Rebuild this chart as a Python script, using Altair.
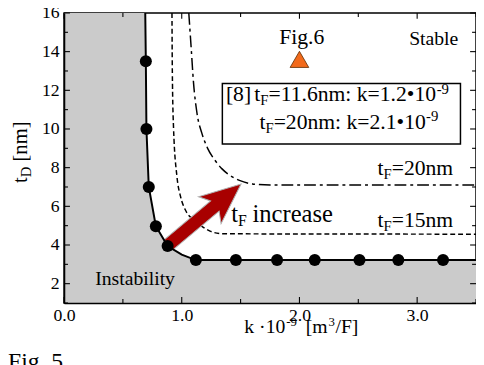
import math
import altair as alt
import pandas as pd

FONT = "Liberation Serif"

# ---------------- data ----------------
# stability boundary (solid line, tF = 11.6 nm)
solid_k = [0.69, 0.695, 0.70, 0.72, 0.78, 0.88, 1.00, 1.12, 3.50]
solid_t = [16.0, 13.5, 10.0, 7.0, 4.97, 3.95, 3.50, 3.22, 3.22]
# simulated points on the boundary
dot_k = [0.695, 0.70, 0.72, 0.78, 0.88, 1.12, 1.46, 1.81, 2.13, 2.51, 2.84, 3.22]
dot_t = [13.5, 10.0, 7.0, 4.97, 3.95, 3.22, 3.22, 3.22, 3.22, 3.22, 3.22, 3.22]
# tF = 15 nm boundary (dashed)
tf15_k = [0.917, 0.92, 0.93, 0.96, 0.99, 1.03, 1.09, 1.15, 1.24, 1.35, 3.50]
tf15_t = [16.0, 13.0, 10.1, 7.5, 6.5, 5.82, 5.35, 5.05, 4.72, 4.58, 4.56]
# tF = 20 nm boundary (dash-dot)
tf20_k = [1.06, 1.08, 1.10, 1.13, 1.17, 1.22, 1.28, 1.34, 1.41, 1.49, 1.60, 1.75, 3.50]
tf20_t = [16.0, 14.2, 12.4, 10.8, 9.8, 9.0, 8.4, 7.95, 7.6, 7.34, 7.16, 7.1, 7.1]
# Fig.6 operating point
fig6_k = [2.0]
fig6_t = [13.6]
# "tF increase" arrow (tail, head)
arrow_k = [0.886, 1.504]
arrow_t = [4.0, 7.15]

x_ticks_major = [0, 1, 2, 3]
x_ticks_minor = [0.5, 1.5, 2.5, 3.5]
y_ticks_major = [2, 4, 6, 8, 10, 12, 14, 16]
y_ticks_minor = [1, 3, 5, 7, 9, 11, 13, 15]

# ---------------- layout ----------------
W, H = 419, 295
XD, YD = [0, 3.5], [1, 16]
PXK = W / (XD[1] - XD[0])
PXT = H / (YD[1] - YD[0])

xs = alt.Scale(domain=XD, nice=False, zero=False)
ys = alt.Scale(domain=YD, nice=False, zero=False)

ax_x_lab = alt.Axis(orient="bottom", values=x_ticks_major, format=".1f", tickSize=0,
                    domain=True, domainColor="black", domainWidth=1.5, grid=False,
                    title=None, labelFont=FONT, labelFontSize=18, labelColor="black",
                    labelPadding=4, labelFlush=False, labelOverlap=False, zindex=2)
ax_y_lab = alt.Axis(orient="left", values=y_ticks_major, tickSize=0,
                    domain=True, domainColor="black", domainWidth=1.5, grid=False,
                    title=None, labelFont=FONT, labelFontSize=18, labelColor="black",
                    labelPadding=5, labelFlush=False, labelOverlap=False, zindex=2)


# every layer carries the same axis definition, so they merge into one
def ex(field):
    return alt.X(f"{field}:Q", scale=xs, axis=ax_x_lab)


def ey(field):
    return alt.Y(f"{field}:Q", scale=ys, axis=ax_y_lab)


# inward tick marks on all four sides (axis decoration) drawn as thin rects
def xtick_layer(values, length_px, top):
    d = length_px / PXT
    a, b = (YD[1], YD[1] - d) if top else (YD[0], YD[0] + d)
    half = 0.55 / PXK
    df = pd.DataFrame({"v1": [v - half for v in values], "v2": [v + half for v in values],
                       "a": a, "b": b})
    return alt.Chart(df).mark_rect(color="black", opacity=1).encode(
        x=ex("v1"), x2=alt.X2("v2"), y=ey("a"), y2=alt.Y2("b"))


def ytick_layer(values, length_px, right):
    d = length_px / PXK
    a, b = (XD[1], XD[1] - d) if right else (XD[0], XD[0] + d)
    half = 0.55 / PXT
    df = pd.DataFrame({"v1": [v - half for v in values], "v2": [v + half for v in values],
                       "a": a, "b": b})
    return alt.Chart(df).mark_rect(color="black", opacity=1).encode(
        y=ey("v1"), y2=alt.Y2("v2"), x=ex("a"), x2=alt.X2("b"))


tick_layers = []
for top in (False, True):
    tick_layers.append(xtick_layer(x_ticks_major, 6, top))
    tick_layers.append(xtick_layer(x_ticks_minor, 4, top))
for right in (False, True):
    tick_layers.append(ytick_layer(y_ticks_major, 6, right))
    tick_layers.append(ytick_layer(y_ticks_minor, 4, right))

# ---------------- tables ----------------
df_area = pd.DataFrame({"k": [XD[0]] + solid_k, "t": [YD[1]] + solid_t})
df_area["base"] = YD[0]
df_solid = pd.DataFrame({"k": solid_k, "t": solid_t})
df_dots = pd.DataFrame({"k": dot_k, "t": dot_t})
df_15 = pd.DataFrame({"k": tf15_k, "t": tf15_t})
df_20 = pd.DataFrame({"k": tf20_k, "t": tf20_t})
df_fig6 = pd.DataFrame({"k": fig6_k, "t": fig6_t})

dxp = (arrow_k[1] - arrow_k[0]) * PXK
dyp = (arrow_t[1] - arrow_t[0]) * PXT
arrow_len = math.hypot(dxp, dyp)
arrow_angle = (360 - math.degrees(math.atan2(dyp, dxp))) % 360
df_arrow = pd.DataFrame({"k": [sum(arrow_k) / 2], "t": [sum(arrow_t) / 2]})
ARROW_PATH = ("M -1 -0.14 L 0.28 -0.14 L 0.14 -0.37 L 1 0 L 0.14 0.37 "
              "L 0.28 0.14 L -1 0.14 Z")

# box around the reference note
df_box = pd.DataFrame({"k": [1.345], "k2": [3.368], "t": [12.354], "t2": [9.222]})

# text annotations: (k, t, text, size)
txt_left = [
    (2.932, 14.32, "Stable", 20),
    (1.375, 11.424, "[8]", 22),
    (1.616, 11.424, "t", 22), (1.667, 11.22, "F", 15),
    (1.737, 11.424, "=11.6nm: k=1.2•10", 22), (3.166, 11.83, "-9", 15),
    (1.660, 10.0, "t", 22), (1.711, 9.797, "F", 15),
    (1.781, 10.0, "=20nm: k=2.1•10", 22), (3.075, 10.407, "-9", 15),
    (2.664, 7.61, "t", 22), (2.715, 7.407, "F", 15), (2.784, 7.61, "=20nm", 22),
    (2.664, 4.915, "t", 22), (2.715, 4.712, "F", 15), (2.784, 4.915, "=15nm", 22),
    (1.420, 5.170, "t", 25), (1.479, 4.966, "F", 16), (1.601, 5.170, "increase", 25),
    (0.265, 1.931, "Instability", 20),
    (1.888, -0.168, "-9", 13),
    (2.247, -0.168, "3", 13), (2.306, -0.575, "/F]", 20),
    (-0.476, -2.42, "Fig. 5", 24),
]
txt_right = [
    (1.880, -0.575, "k ·10", 20),
    (2.239, -0.575, "[m", 20),
]
txt_center = [(2.019, 14.373, "Fig.6", 22)]
txt_rot = [
    (-0.3175, 7.204, "t", 21),
    (-0.284, 7.499, "D", 15),
    (-0.3175, 8.317, "[nm]", 21),
]


def tdf(rows):
    return pd.DataFrame(rows, columns=["k", "t", "text", "size"])


def text_layer(rows, **kw):
    return alt.Chart(tdf(rows)).mark_text(font=FONT, color="black", baseline="alphabetic", **kw).encode(
        x=ex("k"), y=ey("t"), text="text:N", size=alt.Size("size:Q", scale=None))


# ---------------- layers ----------------
area = alt.Chart(df_area).mark_area(color="#cbcbcb", opacity=1).encode(
    x=ex("k"), y=ey("t"), y2=alt.Y2("base"))
l15 = alt.Chart(df_15).mark_line(color="black", strokeWidth=1.5, strokeDash=[5, 3],
                                 interpolate="monotone").encode(x=ex("k"), y=ey("t"))
l20 = alt.Chart(df_20).mark_line(color="black", strokeWidth=1.5, strokeDash=[12, 4, 3, 4],
                                 interpolate="monotone").encode(x=ex("k"), y=ey("t"))
arrow = alt.Chart(df_arrow).mark_point(shape=ARROW_PATH, filled=True, color="#a80000",
                                       stroke="#b0b0b0", strokeWidth=1, opacity=1,
                                       size=arrow_len ** 2, angle=arrow_angle).encode(
    x=ex("k"), y=ey("t"))
solid = alt.Chart(df_solid).mark_line(color="black", strokeWidth=2).encode(x=ex("k"), y=ey("t"))
dots = alt.Chart(df_dots).mark_circle(color="black", size=150, opacity=1).encode(x=ex("k"), y=ey("t"))
box = alt.Chart(df_box).mark_rect(fill="white", stroke="black", strokeWidth=1.5).encode(
    x=ex("k"), x2=alt.X2("k2"), y=ey("t"), y2=alt.Y2("t2"))
fig6 = alt.Chart(df_fig6).mark_point(shape="triangle-up", filled=True, color="#f26a1b",
                                     stroke="#5a2a00", strokeWidth=0.8, size=360, opacity=1).encode(
    x=ex("k"), y=ey("t"))

chart = alt.layer(
    area, l15, l20, arrow, solid, dots, box, fig6,
    *tick_layers,
    text_layer(txt_left, align="left"),
    text_layer(txt_right, align="right"),
    text_layer(txt_center, align="center"),
    text_layer(txt_rot, align="left", angle=270),
).properties(
    width=W, height=H,
    autosize=alt.AutoSizeParams(type="none"),
    padding={"left": 57, "top": 2, "right": 0, "bottom": 60},
    background="white",
).configure_view(stroke="black", strokeWidth=1.5)

chart.save("out.html", embed_options={"renderer": "svg", "actions": False})
